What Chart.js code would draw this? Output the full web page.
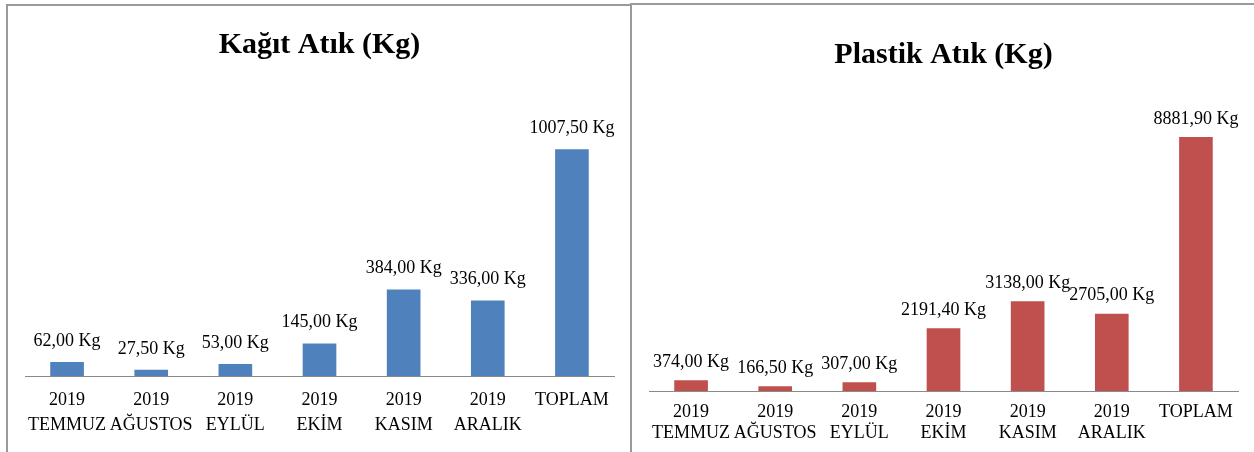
<!DOCTYPE html>
<html>
<head>
<meta charset="utf-8">
<script src="https://cdn.jsdelivr.net/npm/chart.js@4"></script>
<style>
  html, body { margin:0; padding:0; background:#fff; width:1254px; height:452px; overflow:hidden; }
  .box { position:absolute; background:#fff; box-sizing:border-box; border-top:2px solid #9a9a9a; border-left:2px solid #9a9a9a; border-right:2px solid #9a9a9a; }
  #b1 { left:6px; top:4px; width:626px; height:460px; }
  #b2 { left:630px; top:3px; width:626px; height:460px; }
  canvas { position:absolute; }
</style>
</head>
<body>
<div class="box" id="b1"><canvas id="c1"></canvas></div>
<div class="box" id="b2"><canvas id="c2"></canvas></div>
<script>
const categories = [['2019','TEMMUZ'], ['2019','AĞUSTOS'], ['2019','EYLÜL'], ['2019','EKİM'], ['2019','KASIM'], ['2019','ARALIK'], 'TOPLAM'];
const kagitValues = [62.00, 27.50, 53.00, 145.00, 384.00, 336.00, 1007.50];
const plastikValues = [374.00, 166.50, 307.00, 2191.40, 3138.00, 2705.00, 8881.90];
const kagitTitle = 'Kağıt Atık (Kg)';
const plastikTitle = 'Plastik Atık (Kg)';

const fmt = v => v.toFixed(2).replace('.', ',') + ' Kg';

const labelPlugin = {
  id: 'barLabels',
  afterDatasetsDraw(chart, args, opts) {
    const ctx = chart.ctx;
    const meta = chart.getDatasetMeta(0);
    const data = chart.data.datasets[0].data;
    ctx.save();
    ctx.font = '18px "Liberation Serif", "Times New Roman", serif';
    ctx.fillStyle = '#000';
    ctx.textAlign = 'center';
    ctx.textBaseline = 'middle';
    meta.data.forEach((bar, i) => {
      ctx.fillText(fmt(data[i]), bar.x, bar.y - opts.offset);
    });
    ctx.restore();
  }
};

function makeChart(id, w, h, values, color, title, cfg) {
  const canvas = document.getElementById(id);
  canvas.style.left = '-2px';
  canvas.style.top = '-2px';
  return new Chart(canvas, {
    type: 'bar',
    data: {
      labels: categories,
      datasets: [{ data: values, backgroundColor: color, borderWidth: 0, barPercentage: 0.4, categoryPercentage: 1.0 }]
    },
    plugins: [labelPlugin],
    options: {
      responsive: false,
      devicePixelRatio: 1,
      animation: false,
      events: [],
      layout: { padding: { left: cfg.padL, right: cfg.padR, top: 0, bottom: 0 } },
      plugins: {
        legend: { display: false },
        tooltip: { enabled: false },
        title: {
          display: true,
          text: title,
          color: '#000',
          font: { family: '"Liberation Serif", "Times New Roman", serif', size: 30, weight: 'bold', lineHeight: 1.2 },
          padding: { top: cfg.titleTop, bottom: cfg.titleBottom }
        },
        barLabels: { offset: cfg.labelOffset }
      },
      scales: {
        x: {
          grid: { display: false, drawTicks: false },
          border: { display: true, color: '#8a8a8a', width: 1 },
          afterFit: s => { s.height = cfg.xHeight; },
          ticks: {
            color: '#000',
            autoSkip: false,
            maxRotation: 0,
            minRotation: 0,
            padding: cfg.tickPad,
            font: { family: '"Liberation Serif", "Times New Roman", serif', size: 18, lineHeight: cfg.tickLH }
          }
        },
        y: {
          display: false,
          min: 0,
          max: cfg.yMax
        }
      }
    }
  });
}

function sizeCanvas(id, w, h) {
  const c = document.getElementById(id);
  c.width = w; c.height = h;
  c.style.width = w + 'px'; c.style.height = h + 'px';
}
sizeCanvas('c1', 626, 460);
sizeCanvas('c2', 626, 460);

makeChart('c1', 626, 460, kagitValues, '#4F81BD', kagitTitle,
  { padL: 19, padR: 18, titleTop: 23, titleBottom: 43, xHeight: 88, tickPad: 12, tickLH: 1.39, yMax: 1200, labelOffset: 21 });
makeChart('c2', 626, 460, plastikValues, '#C0504D', plastikTitle,
  { padL: 19, padR: 18, titleTop: 34, titleBottom: 32, xHeight: 72, tickPad: 10.5, tickLH: 1.17, yMax: 10000, labelOffset: 18 });
</script>
</body>
</html>
